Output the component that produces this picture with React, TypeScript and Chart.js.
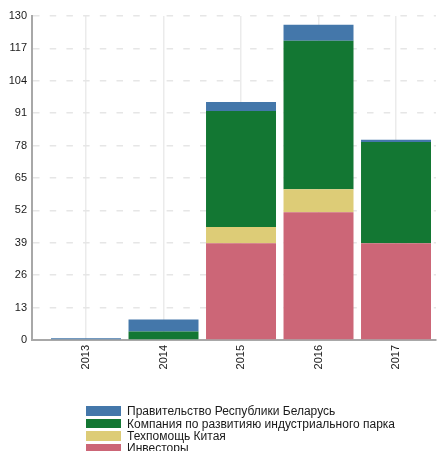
import React, { useEffect, useRef } from "react";
import { Chart, registerables } from "chart.js";

Chart.register(...registerables);

const years = [2013, 2014, 2015, 2016, 2017];
const investors = [0, 0, 38.8, 51.3, 38.8];
const techAidChina = [0, 0, 6.5, 9.2, 0];
const parkCompany = [0, 3.4, 46.6, 59.6, 40.6];
const government = [0.7, 4.8, 3.6, 6.4, 0.9];
const yTicks = [0, 13, 26, 39, 52, 65, 78, 91, 104, 117, 130];

const seriesNames = {
  government: "Правительство Республики Беларусь",
  parkCompany: "Компания по развитияю индустриального парка",
  techAid: "Техпомощь Китая",
  investors: "Инвесторы",
};
const colors = {
  government: "#4477AA",
  parkCompany: "#137733",
  techAid: "#DDCC77",
  investors: "#CC6677",
};

const FONT = "'Liberation Sans', Arial, Helvetica, sans-serif";

export default function App() {
  const ref = useRef<HTMLCanvasElement | null>(null);

  useEffect(() => {
    document.body.style.margin = "0";
    const canvas = ref.current;
    if (!canvas) return;
    const mk = (name: string, data: number[], color: string) => ({
      label: name,
      data: years.map((y, i) => ({ x: y, y: data[i] })),
      backgroundColor: color,
      borderWidth: 0,
      categoryPercentage: 1,
      barPercentage: 0.903,
    });
    const chart = new Chart(canvas, {
      type: "bar",
      data: {
        datasets: [
          mk(seriesNames.investors, investors, colors.investors),
          mk(seriesNames.techAid, techAidChina, colors.techAid),
          mk(seriesNames.parkCompany, parkCompany, colors.parkCompany),
          mk(seriesNames.government, government, colors.government),
        ] as any,
      },
      options: {
        animation: false,
        responsive: false,
        layout: { padding: { top: 16, right: 6, bottom: 71, left: 0 } },
        plugins: { legend: { display: false }, tooltip: { enabled: false } },
        scales: {
          x: {
            type: "linear",
            stacked: true,
            offset: false,
            min: 2012.303,
            max: 2017.516,
            afterBuildTicks: (s: any) => {
              s.ticks = years.map((v) => ({ value: v }));
            },
            afterFit: (s: any) => {
              s.height = 40;
            },
            ticks: {
              minRotation: 90,
              maxRotation: 90,
              padding: 5,
              color: "#1a1a1a",
              font: { family: FONT, size: 11 },
              callback: (v: any) => String(v),
            },
            grid: { offset: false, color: "#ebebeb", lineWidth: 1.5, drawTicks: false },
            border: { color: "#a8a8a8", width: 2 },
          },
          y: {
            stacked: true,
            min: 0,
            max: 130,
            afterBuildTicks: (s: any) => {
              s.ticks = yTicks.map((v) => ({ value: v }));
            },
            afterFit: (s: any) => {
              s.width = 32;
            },
            ticks: {
              padding: 5,
              color: "#1a1a1a",
              font: { family: FONT, size: 11 },
              callback: (v: any) => String(v),
            },
            grid: { color: "#e6e6e6", lineWidth: 1.5, drawTicks: false },
            border: { color: "#a8a8a8", width: 2, dash: [6.5, 10.2] },
          },
        },
      },
    });
    return () => chart.destroy();
  }, []);

  const legendItems = [
    { name: seriesNames.government, color: colors.government },
    { name: seriesNames.parkCompany, color: colors.parkCompany },
    { name: seriesNames.techAid, color: colors.techAid },
    { name: seriesNames.investors, color: colors.investors },
  ];

  return (
    <div style={{ position: "relative", width: 442, height: 451, overflow: "hidden" }}>
      <canvas ref={ref} width={442} height={451} style={{ position: "absolute", left: 0, top: 0 }} />
      <div style={{ position: "absolute", left: 86, top: 405, fontFamily: FONT, fontSize: 12, color: "#1a1a1a" }}>
        {legendItems.map((it) => (
          <div key={it.name} style={{ display: "flex", alignItems: "center", height: 12.4 }}>
            <span style={{ display: "inline-block", width: 35, height: 9.5, background: it.color, marginRight: 6, flex: "none" }} />
            <span style={{ lineHeight: "12px", whiteSpace: "nowrap" }}>{it.name}</span>
          </div>
        ))}
      </div>
    </div>
  );
}
